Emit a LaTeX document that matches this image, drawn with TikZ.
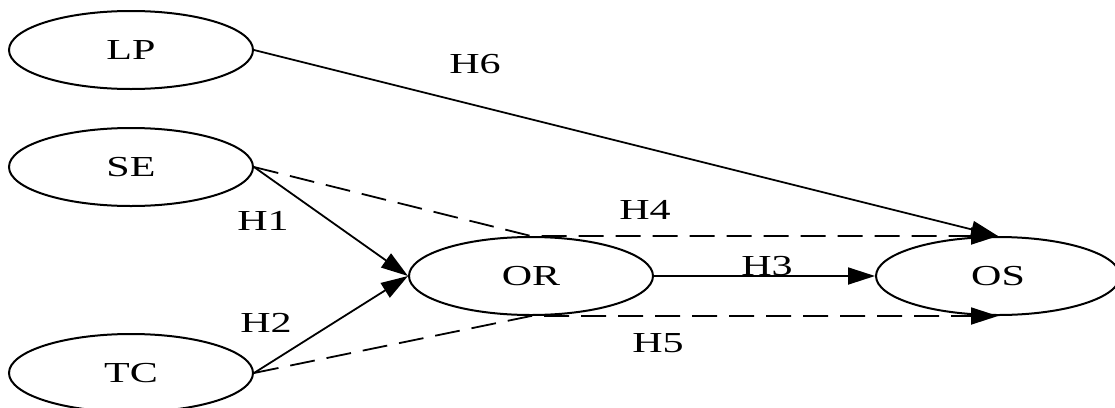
\documentclass[tikz,border=0pt]{standalone}
\usepackage{fontspec}
\setmainfont[FakeStretch=1.45]{Liberation Serif}
\usetikzlibrary{arrows.meta,shapes.geometric}
\begin{document}
\begin{tikzpicture}[x=1pt,y=-1pt,
  var/.style={ellipse,draw,line width=2pt,minimum width=244pt,minimum height=78pt,inner sep=0pt,font=\fontsize{29}{32}\selectfont},
  lbl/.style={font=\fontsize{29}{32}\selectfont,inner sep=0pt},
  link/.style={line width=1.8pt,-{Triangle[length=27pt,width=17pt]}},
  dlink/.style={link,dash pattern=on 25pt off 12pt}]
\useasboundingbox (0,0) rectangle (1115,407);
\node[var] (LP) at (131,50) {LP};
\node[var] (SE) at (131,167) {SE};
\node[var] (TC) at (131,373) {TC};
\node[var] (OR) at (531,276) {OR};
\node[var] (OS) at (998,276) {OS};
\draw[link] (LP.east) -- (OS.north);
\draw[link] (SE.east) -- (OR.west);
\draw[link] (TC.east) -- (OR.west);
\draw[link] (OR.east) -- (OS.west);
\draw[dlink] (SE.east) -- (OR.north) -- (OS.north);
\draw[dlink] (TC.east) -- (OR.south) -- (OS.south);
\node[lbl] (h6) at (475,64) {H6};
\node[lbl] (h1) at (263,221) {H1};
\node[lbl] (h2) at (266,323) {H2};
\node[lbl] (h4) at (645,210) {H4};
\node[lbl] (h3) at (767,266) {H3};
\node[lbl] (h5) at (658,343) {H5};
\end{tikzpicture}
\end{document}
